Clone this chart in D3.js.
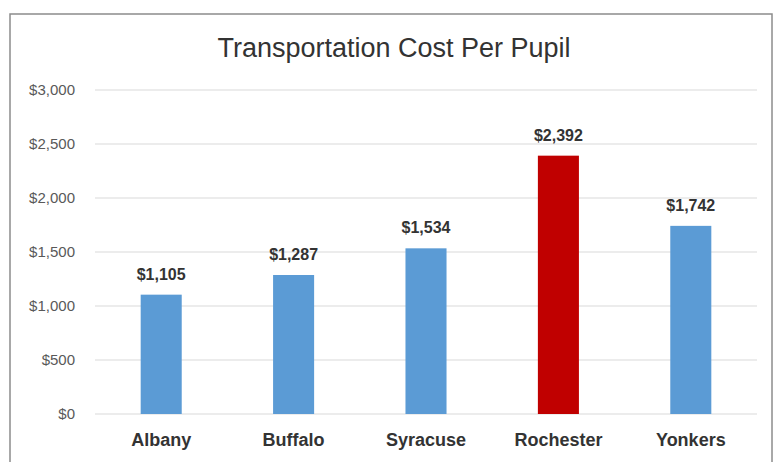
<!DOCTYPE html>
<html>
<head>
<meta charset="utf-8">
<script src="https://cdn.jsdelivr.net/npm/d3@7"></script>
<style>
  body { margin: 0; background: #fff; }
  svg { display: block; font-family: 'Liberation Sans Narrow', 'Liberation Sans', sans-serif; }
</style>
</head>
<body>
<svg id="chart" width="780" height="462"></svg>
<script>
const cities = ['Albany', 'Buffalo', 'Syracuse', 'Rochester', 'Yonkers'];
const costs = [1105, 1287, 1534, 2392, 1742];
const highlight = ['Rochester'];
const yTicks = [0, 500, 1000, 1500, 2000, 2500, 3000];

const svg = d3.select('#chart');
const margin = { left: 95, right: 23, top: 90, bottom: 48 };
const width = 780, height = 462;

// chart frame
svg.append('rect')
  .attr('x', 10).attr('y', 14)
  .attr('width', 762).attr('height', 460)
  .attr('fill', '#fff')
  .attr('stroke', '#8c8c8c')
  .attr('stroke-width', 1.5);

const x = d3.scaleBand()
  .domain(cities)
  .range([margin.left, width - margin.right])
  .paddingInner(0.69)
  .paddingOuter(0.345);

const y = d3.scaleLinear()
  .domain([0, 3000])
  .range([414, margin.top]);

// gridlines
svg.append('g')
  .selectAll('line')
  .data(yTicks)
  .join('line')
  .attr('x1', margin.left).attr('x2', width - margin.right)
  .attr('y1', d => y(d)).attr('y2', d => y(d))
  .attr('stroke', '#d9d9d9')
  .attr('stroke-width', 1);

// y axis labels
const yAxis = svg.append('g')
  .attr('transform', 'translate(' + (margin.left - 17) + ',0)')
  .call(d3.axisLeft(y).tickValues(yTicks).tickSize(0).tickFormat(d => '$' + d3.format(',')(d)));
yAxis.select('.domain').remove();
yAxis.selectAll('text')
  .attr('fill', '#595959')
  .style('font-size', '15px')
  .style('font-family', "'Liberation Sans Narrow', 'Liberation Sans', sans-serif");

// bars
svg.append('g')
  .selectAll('rect')
  .data(cities)
  .join('rect')
  .attr('x', d => x(d))
  .attr('y', (d, i) => y(costs[i]))
  .attr('width', x.bandwidth())
  .attr('height', (d, i) => y(0) - y(costs[i]))
  .attr('fill', d => highlight.includes(d) ? '#c00000' : '#5b9bd5');

// value labels
svg.append('g')
  .selectAll('text')
  .data(cities)
  .join('text')
  .attr('x', d => x(d) + x.bandwidth() / 2)
  .attr('y', (d, i) => y(costs[i]) - 15)
  .attr('text-anchor', 'middle')
  .attr('fill', '#333')
  .style('font-size', '16px')
  .style('font-weight', 'bold')
  .text((d, i) => '$' + d3.format(',')(costs[i]));

// category labels
const xAxis = svg.append('g')
  .attr('transform', 'translate(0,' + y(0) + ')')
  .call(d3.axisBottom(x).tickSize(0).tickPadding(19));
xAxis.select('.domain').remove();
xAxis.selectAll('text')
  .attr('fill', '#333')
  .style('font-size', '18px')
  .style('font-weight', 'bold')
  .style('font-family', "'Liberation Sans Narrow', 'Liberation Sans', sans-serif");

// title
svg.append('text')
  .attr('x', 394).attr('y', 57)
  .attr('text-anchor', 'middle')
  .attr('fill', '#333')
  .style('font-size', '27px')
  .text('Transportation Cost Per Pupil');
</script>
</body>
</html>
